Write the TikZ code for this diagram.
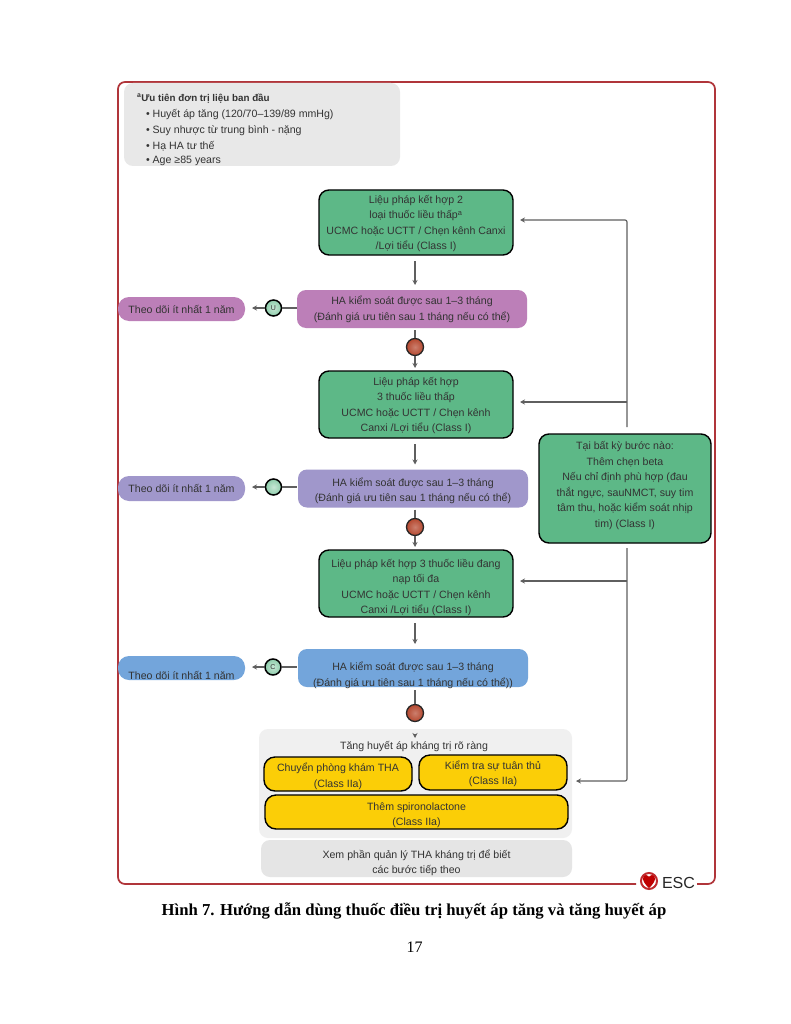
\documentclass[tikz,border=0pt]{standalone}
\usepackage{fontspec}
\setmainfont{Liberation Sans}
\newfontfamily\capfont{Liberation Serif}
\usetikzlibrary{arrows.meta,calc}
\definecolor{framered}{HTML}{B0353A}
\definecolor{boxgreen}{HTML}{5DB887}
\definecolor{boxpurple}{HTML}{BC7FB8}
\definecolor{boxviolet}{HTML}{A097CB}
\definecolor{boxblue}{HTML}{73A5DB}
\definecolor{boxyellow}{HTML}{FBCE07}
\definecolor{txt}{HTML}{333333}
\definecolor{lineg}{HTML}{5F5F5F}
\definecolor{dotred}{HTML}{B5482F}
\newcommand\bodyfont{\fontsize{10.6}{15.5}\selectfont}
% text block centred on the box, moved down by #1 pt, box size unaffected
\newcommand\tb[2]{\makebox[0pt]{\raisebox{\dimexpr-#1pt-3pt\relax}[0pt][0pt]{\parbox{340pt}{\centering\bodyfont #2}}}}
\tikzset{
  x=1pt,y=-1pt,
  base/.style={anchor=center,inner sep=0pt,outer sep=0pt,align=center,text=txt,font=\bodyfont},
  sized/.style n args={2}{minimum width=#1,minimum height=#2},
  greenbox/.style={base,fill=boxgreen,draw=black,line width=1.4pt,rounded corners=10pt},
  softbox/.style={base,rounded corners=9pt},
  pill/.style={base,rounded corners=11pt},
  yellowbox/.style={base,fill=boxyellow,draw=black,line width=1.4pt,rounded corners=11pt},
  okdot/.style={circle,draw=black,line width=1.5pt,inner color=boxgreen!35,outer color=boxgreen!70,minimum size=16pt,inner sep=0pt,text=txt,font=\fontsize{7}{7}\selectfont},
  nodot/.style={circle,draw=black!85,line width=1.3pt,inner color=dotred!70,outer color=dotred,minimum size=17pt,inner sep=0pt},
  arr/.style={draw=lineg,line width=1.2pt,-{Stealth[length=5pt,width=5pt]}},
  plain/.style={draw=lineg,line width=1.2pt},
}
\begin{document}
\begin{tikzpicture}
\useasboundingbox (0,0) rectangle (791,1024);
\fill[white] (0,0) rectangle (791,1024);
% frame
\coordinate (fa) at (636,884);
\coordinate (fb) at (697,884);
\draw[framered,line width=1.7pt,rounded corners=7pt] (fa) -- (118,884) -- (118,82) -- (715,82) -- (715,884) -- (fb);
% top note
\node[softbox,fill=black!9,sized={276pt}{83pt}] (note) at (262,124.5) {};
\node[base,anchor=west,font=\bfseries\fontsize{9.8}{10}\selectfont] (t0) at (137,98.5) {\textsuperscript{a}Ưu tiên đơn trị liệu ban đầu};
\node[base,anchor=west] (t1) at (146,115) {\textbullet\ Huyết áp tăng (120/70–139/89 mmHg)};
\node[base,anchor=west] (t2) at (146,131) {\textbullet\ Suy nhược từ trung bình - nặng};
\node[base,anchor=west] (t3) at (146,146) {\textbullet\ Hạ HA tư thế};
\node[base,anchor=west] (t4) at (146,161) {\textbullet\ Age ≥85 years};
% main column
\node[greenbox,sized={194pt}{65pt}] (g1) at (416,222.5) {\tb{1}{Liệu pháp kết hợp 2\\loại thuốc liều thấp\textsuperscript{a}\\UCMC hoặc UCTT / Chẹn kênh Canxi\\/Lợi tiểu (Class I)}};
\node[softbox,fill=boxpurple,sized={230pt}{38pt}] (p1) at (412,309) {\tb{0}{HA kiểm soát được sau 1–3 tháng\\(Đánh giá ưu tiên sau 1 tháng nếu có thể)}};
\node[pill,fill=boxpurple,sized={127pt}{24pt}] (f1) at (181.5,309) {\tb{0}{Theo dõi ít nhất 1 năm}};
\node[okdot] (c1) at (273.5,308) {U};
\node[nodot] (r1) at (415,347) {};
\node[greenbox,sized={194pt}{67pt}] (g2) at (416,404.5) {\tb{1}{Liệu pháp kết hợp\\3 thuốc liều thấp\\UCMC hoặc UCTT / Chẹn kênh\\Canxi /Lợi tiểu (Class I)}};
\node[softbox,fill=boxviolet,sized={230pt}{38pt}] (p2) at (413,488.5) {\tb{2}{HA kiểm soát được sau 1–3 tháng\\(Đánh giá ưu tiên sau 1 tháng nếu có thể)}};
\node[pill,fill=boxviolet,sized={127pt}{25pt}] (f2) at (181.5,488.5) {\tb{0}{Theo dõi ít nhất 1 năm}};
\node[okdot] (c2) at (273.5,487) {};
\node[nodot] (r2) at (415,527) {};
\node[greenbox,sized={194pt}{67pt}] (g3) at (416,583.5) {\tb{4}{Liệu pháp kết hợp 3 thuốc liều đang\\nạp tối đa\\UCMC hoặc UCTT / Chẹn kênh\\Canxi /Lợi tiểu (Class I)}};
\node[softbox,fill=boxblue,sized={230pt}{38pt}] (p3) at (413,668) {\tb{7}{HA kiểm soát được sau 1–3 tháng\\(Đánh giá ưu tiên sau 1 tháng nếu có thể))}};
\node[pill,fill=boxblue,sized={127pt}{24pt}] (f3) at (181.5,668) {\tb{7}{Theo dõi ít nhất 1 năm}};
\node[okdot] (c3) at (273,667) {C};
\node[nodot] (r3) at (415,713) {};
% resistant panel
\node[softbox,fill=black!6,sized={313pt}{109pt}] (res) at (415.5,783.5) {};
\node[base] (restitle) at (414,747) {Tăng huyết áp kháng trị rõ ràng};
\node[yellowbox,sized={148pt}{34pt}] (y1) at (338,774) {\tb{2}{Chuyển phòng khám THA\\(Class IIa)}};
\node[yellowbox,sized={148pt}{35pt}] (y2) at (493,772.5) {\tb{1}{Kiểm tra sự tuân thủ\\(Class IIa)}};
\node[yellowbox,sized={303pt}{34pt}] (y3) at (416.5,812) {\tb{3}{Thêm spironolactone\\(Class IIa)}};
\node[softbox,fill=black!10,sized={311pt}{37pt}] (more) at (416.5,858.5) {\tb{4}{Xem phần quản lý THA kháng trị để biết\\các bước tiếp theo}};
% side box
\node[greenbox,sized={172pt}{109pt}] (side) at (625,488.5) {\tb{-3}{Tại bất kỳ bước nào:\\Thêm chẹn beta\\Nếu chỉ định phù hợp (đau\\thắt ngực, sauNMCT, suy tim\\tâm thu, hoặc kiểm soát nhịp\\tim) (Class I)}};
% vertical flow
\draw[arr] ($(g1.south)+(-1,6)$) -- ($(p1.north)+(3,-5)$);
\draw[plain] ($(p1.south)+(3,2)$) -- (r1.north);
\draw[arr] (r1.south) -- ($(g2.north)+(-1,-3)$);
\draw[arr] ($(g2.south)+(-1,6)$) -- ($(p2.north)+(2,-5)$);
\draw[plain] ($(p2.south)+(2,2)$) -- (r2.north);
\draw[arr] (r2.south) -- ($(g3.north)+(-1,-3)$);
\draw[arr] ($(g3.south)+(-1,6)$) -- ($(p3.north)+(2,-5)$);
\draw[plain] ($(p3.south)+(2,3)$) -- (r3.north);
\coordinate (resin) at (415,738);
\draw[arr] (r3.south) ++(0,12) -- (resin);
% left branches
\draw[plain] (c1.east) -- (c1.east -| p1.west);
\draw[arr] (c1.west) -- ($(c1.west -| f1.east)+(7,0)$);
\draw[plain] (c2.east) -- ($(c2.east -| p2.west)+(-1,0)$);
\draw[arr] (c2.west) -- ($(c2.west -| f2.east)+(7,0)$);
\draw[plain] (c3.east) -- ($(c3.east -| p3.west)+(-1,0)$);
\draw[arr] (c3.west) -- ($(c3.west -| f3.east)+(7,0)$);
% side branches
\coordinate (sa) at (627,427);
\coordinate (sb) at (627,548);
\coordinate (g1in) at (520,220);
\coordinate (g2in) at (520,402);
\coordinate (g3in) at (520,581);
\coordinate (yin) at (576,781);
\draw[arr,rounded corners=2pt] (sa) -- (627,220) -- (g1in);
\draw[arr] (627,402) -- (g2in);
\draw[arr,rounded corners=2pt] (sb) -- (627,781) -- (yin);
\draw[arr] (627,581) -- (g3in);
% ESC logo
\node[base,anchor=west,font=\fontsize{16}{16}\selectfont,text=black!85] (esc) at (662,882.5) {ESC};
\draw[framered!80!red,line width=2pt,fill=white] (649,881) circle (8);
\fill[red!75!black] (649,888) .. controls (641,881) and (642,875) .. (646,875) .. controls (648,875) and (649,877) .. (649,877) .. controls (649,877) and (650,875) .. (652,875) .. controls (656,875) and (657,881) .. (649,888) -- cycle;
% caption
\node[base,text=black,font=\capfont\bfseries\fontsize{16.7}{18}\selectfont] (cap) at (414,911) {Hình 7. Hướng dẫn dùng thuốc điều trị huyết áp tăng và tăng huyết áp};
\node[base,text=black,font=\capfont\fontsize{16}{18}\selectfont] (pg) at (414.5,947) {17};
\end{tikzpicture}
\end{document}
